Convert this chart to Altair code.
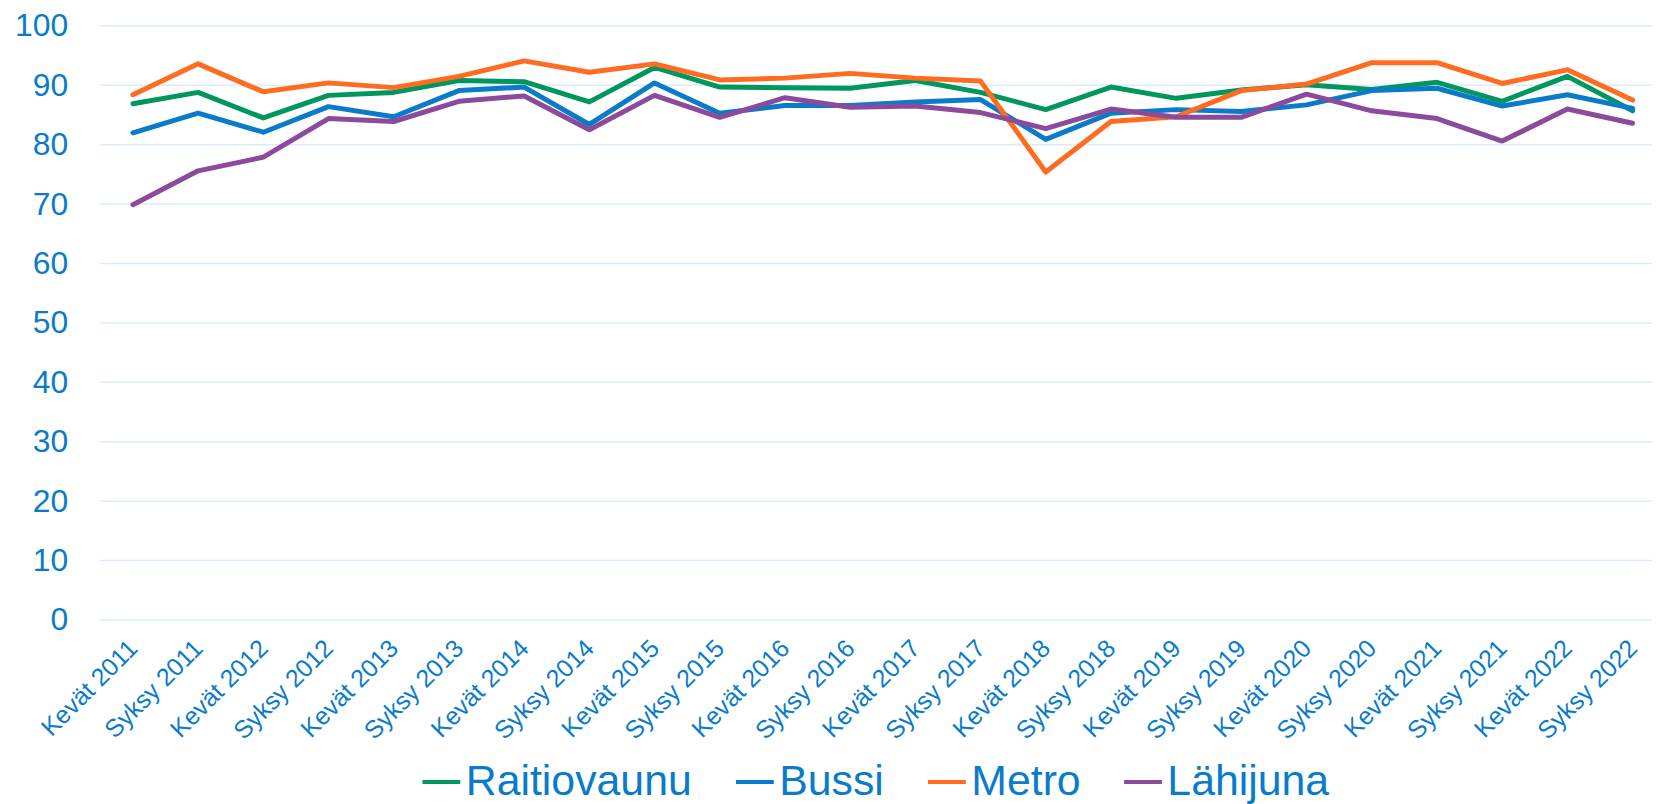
import altair as alt
import pandas as pd

categories = ["Kevät 2011", "Syksy 2011", "Kevät 2012", "Syksy 2012", "Kevät 2013", "Syksy 2013",
              "Kevät 2014", "Syksy 2014", "Kevät 2015", "Syksy 2015", "Kevät 2016", "Syksy 2016",
              "Kevät 2017", "Syksy 2017", "Kevät 2018", "Syksy 2018", "Kevät 2019", "Syksy 2019",
              "Kevät 2020", "Syksy 2020", "Kevät 2021", "Syksy 2021", "Kevät 2022", "Syksy 2022"]

raitiovaunu = [86.9, 88.8, 84.5, 88.3, 88.8, 90.8, 90.6, 87.2, 93.0, 89.7, 89.6, 89.5,
               90.8, 88.8, 85.9, 89.7, 87.8, 89.2, 90.1, 89.3, 90.5, 87.3, 91.5, 85.7]
bussi = [82.0, 85.3, 82.1, 86.4, 84.7, 89.1, 89.7, 83.4, 90.4, 85.3, 86.6, 86.6,
         87.2, 87.6, 80.9, 85.3, 85.9, 85.6, 86.7, 89.1, 89.5, 86.5, 88.4, 86.1]
metro = [88.4, 93.6, 88.9, 90.4, 89.6, 91.5, 94.1, 92.2, 93.6, 90.9, 91.2, 92.0,
         91.2, 90.7, 75.4, 83.9, 84.7, 89.1, 90.2, 93.8, 93.8, 90.3, 92.6, 87.5]
lahijuna = [69.9, 75.6, 77.9, 84.4, 83.9, 87.3, 88.2, 82.5, 88.3, 84.6, 87.9, 86.3,
            86.5, 85.4, 82.7, 86.0, 84.6, 84.6, 88.5, 85.7, 84.4, 80.6, 86.0, 83.6]

y_ticks = [0, 10, 20, 30, 40, 50, 60, 70, 80, 90, 100]

series_names = ["Raitiovaunu", "Bussi", "Metro", "Lähijuna"]
series_colors = ["#00975F", "#0A7BCB", "#FF6B1F", "#8B4A9B"]
series_values = [raitiovaunu, bussi, metro, lahijuna]

rows = []
for name, vals in zip(series_names, series_values):
    for cat, v in zip(categories, vals):
        rows.append({"Kausi": cat, "Sarja": name, "Arvo": v})
df = pd.DataFrame(rows)
grid_df = pd.DataFrame({"v": y_ticks})

FONT = "Liberation Sans"
TEXT = "#0A7BCB"
W, H = 1560, 597

yscale = alt.Scale(domain=[0, 100], nice=False, zero=True)

grid = alt.Chart(grid_df).mark_rule(color="#DCECF9", strokeWidth=1.5).encode(
    y=alt.Y("v:Q", scale=yscale, title=None,
            axis=alt.Axis(values=y_ticks, labelFontSize=32, labelColor=TEXT,
                          labelFont=FONT, labelPadding=32, ticks=False, domain=False,
                          grid=False)),
    x=alt.value(0),
    x2=alt.value(W),
)

lines = alt.Chart(df).mark_line(strokeWidth=5, strokeJoin="round", strokeCap="round").encode(
    x=alt.X("Kausi:N", sort=categories, title=None,
            scale=alt.Scale(type="point", range=[33.5, 1540.5], padding=0),
            axis=alt.Axis(labelAngle=-45, labelAlign="right", labelBaseline="middle",
                          labelFontSize=25, labelColor=TEXT, labelFont=FONT,
                          labelPadding=24, ticks=False, domain=False, grid=False,
                          labelOverlap=False)),
    y=alt.Y("Arvo:Q", scale=yscale, title=None),
    color=alt.Color("Sarja:N", sort=series_names,
                    scale=alt.Scale(domain=series_names, range=series_colors),
                    legend=alt.Legend(orient="none", legendX=322, legendY=738,
                                      direction="horizontal", columns=4, title=None,
                                      symbolType="stroke", symbolSize=1444, symbolStrokeWidth=4,
                                      labelFontSize=43, labelColor=TEXT, labelFont=FONT,
                                      labelOffset=3, columnPadding=35, labelLimit=400)),
    order=alt.Order("sarja_idx:Q"),
).transform_calculate(
    sarja_idx="indexof(['Raitiovaunu','Bussi','Metro','Lähijuna'], datum.Sarja)"
)

chart = alt.layer(grid, lines).properties(
    width=W, height=H,
    background="white",
    autosize=alt.AutoSizeParams(type="none"),
    padding={"left": 92, "top": 16, "right": 0, "bottom": 183},
).configure_view(stroke=None)

chart.save("out.html", embed_options={"renderer": "svg", "actions": False})
